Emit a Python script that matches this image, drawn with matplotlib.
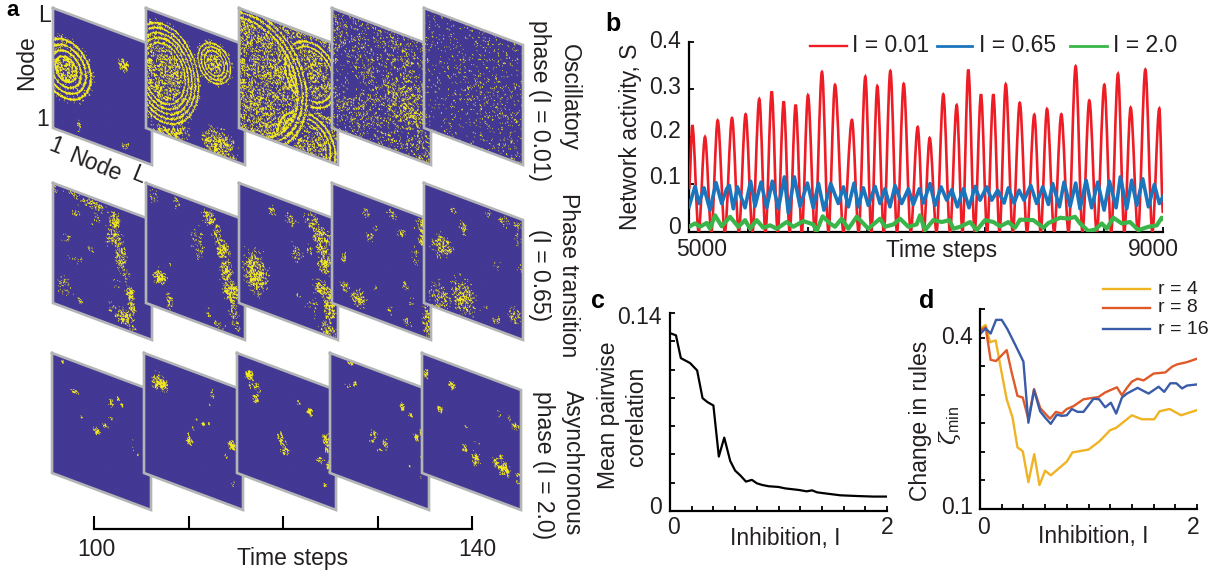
import numpy as np
import matplotlib
matplotlib.use('Agg')
import matplotlib.pyplot as plt
from matplotlib.colors import ListedColormap
from matplotlib.patches import PathPatch
from matplotlib.path import Path
from matplotlib.transforms import Affine2D

plt.rcParams['font.family'] = ['Liberation Sans', 'DejaVu Sans']
plt.rcParams['mathtext.fontset'] = 'custom'
plt.rcParams['mathtext.rm'] = 'Liberation Sans'
plt.rcParams['mathtext.it'] = 'DejaVu Serif:italic'

W, H = 1225, 577
INK = '#231f20'

# panel b: peaks and troughs of each trace
red_peak_t = [5028, 5135, 5242, 5363, 5478, 5593, 5698, 5799, 5900, 6004, 6122, 6232, 6375, 6488, 6589, 6699, 6812,
              6930, 7031, 7146, 7259, 7357, 7464, 7568, 7673, 7791, 7914, 8021, 8142, 8263, 8378, 8505, 8620, 8727,
              8851, 8969]
red_peak_s = [.225, .20, .235, .24, .248, .28, .296, .275, .268, .288, .337, .31, .236, .327, .307, .339, .312,
              .221, .198, .29, .267, .342, .29, .29, .311, .272, .247, .259, .248, .349, .277, .31, .333, .262,
              .342, .26]
blue_t = [5000, 5051, 5084, 5127, 5177, 5228, 5276, 5318, 5340, 5374, 5408, 5473, 5520, 5557, 5608, 5656, 5703, 5754,
          5805, 5838, 5889, 5937, 5999, 6049, 6092, 6139, 6196, 6260, 6303, 6345, 6393, 6429, 6471, 6513, 6570, 6612,
          6654, 6696, 6739, 6795, 6851, 6893, 6944, 6978, 7034, 7076, 7127, 7175, 7217, 7265, 7315, 7363, 7414, 7456,
          7512, 7555, 7605, 7659, 7695, 7743, 7785, 7827, 7884, 7934, 7985, 8033, 8069, 8126, 8165, 8216, 8263, 8300,
          8351, 8398, 8449, 8503, 8548, 8604, 8640, 8694, 8736, 8778, 8829, 8877, 8927, 8969, 9000]
blue_s = [.053, .096, .060, .093, .046, .104, .060, .091, .098, .049, .095, .051, .107, .054, .105, .051, .107, .049,
          .116, .040, .116, .054, .103, .051, .103, .046, .102, .060, .095, .053, .103, .053, .093, .056, .096, .060,
          .091, .053, .098, .060, .091, .058, .091, .061, .102, .056, .095, .067, .089, .053, .091, .051, .096, .067,
          .095, .067, .088, .061, .093, .061, .088, .067, .098, .060, .095, .058, .102, .053, .105, .054, .103, .049,
          .109, .051, .105, .046, .107, .051, .116, .049, .109, .056, .112, .053, .100, .060, .074]
green_t = [5000, 5051, 5093, 5149, 5177, 5220, 5276, 5346, 5416, 5473, 5515, 5571, 5627, 5684, 5740, 5824, 5881, 5965,
           6049, 6077, 6128, 6190, 6232, 6288, 6345, 6415, 6471, 6513, 6612, 6654, 6725, 6781, 6851, 6921, 6949, 6992,
           7062, 7133, 7197, 7231, 7287, 7372, 7428, 7498, 7569, 7625, 7695, 7751, 7794, 7906, 7991, 8033, 8131, 8202,
           8258, 8300, 8370, 8427, 8483, 8525, 8581, 8652, 8722, 8792, 8877, 8947, 8989, 9000]
green_s = [.011, .018, .011, .019, .007, .035, .012, .032, .011, .025, .007, .025, .009, .014, .007, .021, .011, .023,
           .016, .002, .033, .018, .011, .028, .007, .032, .018, .007, .028, .011, .016, .028, .011, .016, .035, .004,
           .025, .021, .025, .007, .011, .021, .004, .025, .021, .012, .021, .009, .026, .025, .009, .019, .030, .028,
           .032, .018, .002, .005, .018, .007, .030, .018, .021, .004, .011, .014, .030, .028]

# panel c
corr_i = [0, .055, .10, .185, .25, .30, .345, .40, .45, .50, .555, .60, .65, .70, .755, .80, .85, .91, 1.0, 1.06, 1.185,
          1.26, 1.31, 1.355, 1.445, 1.57, 1.72, 1.875, 2]
corr_v = [.1258, .1242, .1081, .1046, .0994, .0798, .0770, .0746, .0385, .0519, .0354, .0286, .025, .0208, .022, .0196,
          .0184, .0175, .017, .016, .0149, .0139, .0146, .0132, .0123, .0111, .0106, .0102, .0102]

# panel d
r4_i = [0, .052, .092, .145, .185, .246, .30, .345, .394, .446, .50, .548, .60, .652, .80, .852, 1.0, 1.098, 1.2, 1.255,
        1.4, 1.492, 1.606, 1.655, 1.748, 1.852, 2]
r4_v = [.415, .422, .392, .395, .353, .292, .26, .208, .201, .147, .196, .142, .167, .159, .183, .199, .204, .218, .238,
        .242, .264, .257, .257, .271, .275, .264, .273]
r8_i = [0, .052, .098, .148, .246, .292, .345, .394, .446, .498, .554, .60, .646, .70, .754, .80, .862, .954, 1.092,
        1.154, 1.262, 1.308, 1.354, 1.40, 1.452, 1.508, 1.60, 1.708, 1.77, 1.815, 1.908, 2]
r8_v = [.412, .418, .361, .359, .378, .339, .298, .295, .257, .31, .277, .267, .258, .27, .267, .275, .28, .292, .296,
        .304, .313, .299, .312, .323, .328, .325, .337, .339, .349, .353, .357, .363]
r16_i = [0, .052, .098, .148, .20, .252, .323, .40, .446, .498, .554, .60, .652, .708, .754, .80, .846, .90, .954, 1.046,
         1.098, 1.154, 1.206, 1.255, 1.308, 1.354, 1.452, 1.554, 1.646, 1.698, 1.754, 1.81, 1.862, 1.908, 2]
r16_v = [.406, .416, .407, .431, .431, .415, .388, .358, .251, .308, .271, .26, .249, .265, .263, .264, .275, .27, .27,
         .293, .292, .278, .286, .267, .295, .302, .312, .302, .314, .305, .32, .32, .311, .316, .318]

# panel a, lattice snapshots: where the active sites sit, read from each frame
# frame corners in px: left edges, top-left y
frame_x = [[53, 146, 239, 332, 424], [53, 146, 239, 332, 424], [52, 144, 237, 330, 422]]
frame_top = [8, 183, 353]

# background activity of each frame in the top row
osc_base = [0, 0, .36, .13, .05]
# (u, v, radius u, radius v, number of wave fronts, activity inside, radius of the speckled core)
osc_rings = [
    [(.13, .47, .29, .28, 6, .6, .35)],
    [(.18, .49, .38, .44, 11, .45, .5), (.69, .25, .19, .19, 6, .5, .4)],
    [(.73, .33, .30, .30, 7, .36, .65), (.68, .93, .33, .30, 7, .36, .6), (.10, .55, .62, .60, 14, .36, .78)],
    [], [],
]
# (u, v, radius u, radius v, activity)
osc_quiet = [
    [], [],
    [(.87, .56, .16, .07, 0), (.13, .50, .10, .13, .08), (.98, .99, .06, .1, 0)],
    [(.15, .55, .15, .15, .05)],
    [],
]
osc_clumps = [
    [(.71, .26, .05, .05, .7), (.257, .90, .02, .05, .35), (.73, .925, .03, .03, .35)],
    [(.24, .91, .17, .13, .6), (.73, .92, .14, .13, .6)],
    [],
    [(.73, .56, .25, .25, .32), (.3, .72, .4, .2, .2)],
    [(.65, .55, .3, .3, .1)],
]
trans_clumps = [
    [(.4, .06, .1, .03, .4), (.62, .135, .04, .06, .5), (.43, .18, .04, .04, .2), (.62, .27, .06, .06, .45),
     (.68, .405, .04, .08, .6), (.73, .53, .03, .04, .3), (.78, .69, .03, .04, .7), (.8, .785, .03, .04, .6),
     (.72, .89, .06, .05, .6), (.8, .965, .03, .02, .5), (.2, .03, .05, .02, .3), (.23, .17, .03, .03, .2),
     (.12, .41, .04, .04, .2), (.25, .565, .06, .02, .3), (.12, .825, .05, .06, .2), (.28, .90, .02, .02, .3),
     (.65, .64, .03, .03, .25), (.6, .84, .03, .04, .2), (.38, .44, .02, .02, .2), (.02, .04, .02, .03, .3)],
    [(.64, .09, .05, .04, .5), (.31, .06, .03, .04, .3), (.08, .08, .03, .04, .2), (.71, .2, .03, .06, .35),
     (.78, .32, .05, .06, .55), (.53, .34, .05, .08, .25), (.81, .48, .04, .08, .6), (.86, .64, .05, .08, .6),
     (.88, .8, .04, .04, .3), (.91, .91, .03, .03, .4), (.73, .96, .05, .02, .3), (.64, .88, .03, .03, .2),
     (.14, .74, .05, .04, .7), (.24, .91, .02, .05, .5), (.24, .6, .02, .02, .1)],
    [(.17, .69, .08, .12, .6), (.34, .13, .03, .03, .4), (.52, .15, .04, .04, .3), (.74, .09, .05, .05, .35),
     (.84, .19, .06, .06, .55), (.86, .29, .06, .05, .55), (.86, .41, .05, .06, .55), (.59, .41, .04, .05, .3),
     (.71, .33, .03, .03, .2), (.84, .615, .05, .05, .5), (.92, .74, .04, .1, .55), (.9, .94, .05, .04, .55),
     (.74, .79, .04, .06, .2), (.6, .75, .02, .02, .2)],
    [(.35, .14, .03, .03, .35), (.59, .08, .04, .03, .2), (.38, .33, .03, .03, .3), (.44, .24, .015, .02, .3),
     (.7, .2, .03, .03, .35), (.91, .08, .04, .05, .6), (.92, .19, .03, .06, .6), (.97, .34, .02, .1, .5),
     (.84, .35, .03, .06, .2), (.12, .585, .02, .03, .5), (.13, .83, .03, .03, .5), (.27, .88, .05, .05, .5),
     (.44, .73, .02, .02, .3), (.74, .63, .02, .02, .4), (.96, .84, .03, .1, .4), (.76, .92, .03, .03, .3),
     (.81, .74, .02, .03, .2), (.59, .87, .03, .03, .15)],
    [(.3, .135, .02, .02, .3), (.4, .25, .03, .04, .4), (.18, .47, .07, .07, .5), (.65, .05, .02, .02, .2),
     (.815, .07, .04, .03, .35), (.95, .07, .03, .03, .3), (.95, .19, .03, .04, .2), (.40, .83, .08, .1, .5),
     (.16, .9, .07, .08, .35), (.75, .46, .03, .03, .1), (.97, .42, .02, .03, .2), (.73, .91, .03, .03, .3),
     (.92, .83, .04, .05, .3), (.63, .85, .02, .03, .15)],
]
async_clumps = [
    [(.11, .04, .015, .01, .8), (.22, .25, .035, .015, .7), (.60, .23, .015, .025, .8), (.67, .175, .02, .015, .6),
     (.71, .22, .012, .012, .6), (.30, .44, .012, .01, .6), (.60, .36, .02, .012, .4), (.45, .51, .025, .02, .8),
     (.54, .435, .025, .015, .4), (.82, .515, .012, .03, .3), (.87, .586, .015, .02, .3)],
    [(.16, .2, .06, .05, .75), (.69, .14, .012, .03, .6), (.66, .23, .008, .008, .4), (.36, .49, .01, .012, .3),
     (.49, .48, .012, .015, .6), (.53, .39, .006, .006, .6), (.60, .41, .015, .015, .6), (.66, .38, .008, .012, .8),
     (.46, .58, .025, .03, .8), (.89, .50, .03, .03, .9), (.83, .605, .012, .012, .4), (.90, .805, .01, .02, .25)],
    [(.13, .15, .035, .03, .85), (.18, .23, .05, .03, .35), (.19, .32, .03, .03, .75), (.45, .575, .035, .035, .6),
     (.49, .67, .035, .03, .75), (.735, .27, .025, .025, .75), (.62, .22, .02, .012, .5), (.91, .45, .035, .04, .8),
     (.91, .53, .02, .025, .7), (.84, .63, .03, .02, .4), (.92, .67, .015, .04, .6), (.886, .825, .02, .01, .5)],
    [(.21, .02, .025, .012, .7), (.25, .18, .012, .02, .7), (.17, .22, .03, .02, .2), (.73, .22, .015, .025, .8),
     (.82, .265, .02, .015, .7), (.44, .54, .03, .03, .45), (.42, .605, .02, .012, .7), (.56, .59, .02, .03, .7),
     (.50, .66, .03, .02, .3), (.87, .435, .025, .02, .7), (.94, .39, .03, .03, .6), (.94, .51, .012, .02, .5),
     (.93, .59, .012, .01, .7), (.805, .69, .012, .012, .7), (.92, .75, .01, .01, .4)],
    [(.04, .16, .02, .035, .5), (.30, .175, .025, .025, .8), (.185, .415, .02, .025, .7), (.45, .475, .015, .01, .5),
     (.43, .665, .025, .025, .8), (.54, .715, .03, .04, .85), (.52, .57, .012, .015, .5), (.58, .58, .012, .008, .3),
     (.78, .27, .02, .02, .25), (.875, .27, .025, .025, .4), (.94, .32, .03, .02, .7), (.75, .69, .025, .035, .7),
     (.80, .62, .02, .015, .6), (.83, .715, .04, .04, .85), (.97, .72, .02, .015, .7), (.97, .775, .015, .02, .3)],
]
step_ticks = [100, 110, 120, 130, 140]


def px_axes(fig, left, top, right, bottom):
    return fig.add_axes([left / W, 1 - bottom / H, (right - left) / W, (bottom - top) / H])


def speckle_threshold(n):
    # fixed hash pattern, only turns an activity level into single sites
    yy, xx = np.mgrid[0:n, 0:n]
    fine = (np.sin(xx * 12.9898 + yy * 78.233) * 43758.5453) % 1
    coarse = (np.sin((xx // 2) * 39.346 + (yy // 2) * 11.135) * 24634.6345) % 1
    t = 0.5 * fine + 0.5 * coarse
    # back to an even spread, so a level of 0.2 lights about 20% of the sites
    return np.where(t < 0.5, 2 * t ** 2, 1 - 2 * (1 - t) ** 2)


def frame_sites(base, rings, quiet, clumps, spread=1.0, n=128):
    v, u = (np.mgrid[0:n, 0:n] + 0.5) / n
    level = np.full((n, n), float(base))
    grain = speckle_threshold(n)
    for cu, cv, ru, rv, act in clumps:
        r = np.hypot((u - cu) / (ru * spread), (v - cv) / (rv * spread))
        level = np.maximum(level, act * np.exp(-r ** 4))
    for cu, cv, ru, rv, act in quiet:
        r = np.hypot((u - cu) / ru, (v - cv) / rv)
        level = np.where(r < 1, act, level)
    for cu, cv, ru, rv, fronts, act, core in rings:
        r = np.hypot((u - cu) / ru, (v - cv) / rv) + 0.03 * (grain - 0.5)
        phase = (r * fronts) % 1
        front = np.where(phase < 0.4, 1.0, 0.1)
        ringed = np.where(r < core, act, front)
        level = np.where(r < 1, np.maximum(ringed, level * (r < core)), level)
    return level > grain


def draw_frame(ax, sites, x0, top):
    # u across, v down: each frame is sheared down to the right
    shear = Affine2D.from_values(99, 37, 0, 120, x0, top)
    cmap = ListedColormap(['#433894', '#f2e81e'])
    ax.imshow(sites.astype(float), cmap=cmap, vmin=0, vmax=1, extent=(0, 1, 1, 0), aspect='auto',
              interpolation='hanning', transform=shear + ax.transData, zorder=2)
    corners = np.array([[0, 0], [1, 0], [1, 1], [0, 1], [0, 0]])
    xy = shear.transform(corners)
    ax.plot(xy[:, 0], xy[:, 1], color='#b3b4b6', lw=1.9, solid_joinstyle='miter', zorder=2)


def smooth_trace(ts, ss, k=0.33):
    # curve through the read peaks and troughs, flat at each of them
    verts = [(ts[0], ss[0])]
    codes = [Path.MOVETO]
    for t0, s0, t1, s1 in zip(ts[:-1], ss[:-1], ts[1:], ss[1:]):
        dt = t1 - t0
        verts += [(t0 + k * dt, s0), (t1 - k * dt, s1), (t1, s1)]
        codes += [Path.CURVE4] * 3
    return Path(verts, codes)


def label(ax, x, y, s, size=16.5, rotation=0, **kw):
    kw.setdefault('ha', 'center')
    kw.setdefault('va', 'center')
    kw.setdefault('color', INK)
    ax.text(x, y, s, fontsize=size, rotation=rotation, rotation_mode='anchor', **kw)


def style_axes(ax):
    for side in ('top', 'right'):
        ax.spines[side].set_visible(False)
    for side in ('left', 'bottom'):
        ax.spines[side].set_linewidth(1.6)
        ax.spines[side].set_color('black')
    ax.tick_params(direction='in', length=3.5, width=1.3, labelleft=False, labelbottom=False)
    ax.patch.set_alpha(0)


fig = plt.figure(figsize=(W / 100, H / 100), dpi=100)

# overlay in px for panel a and all the hand placed text
over = fig.add_axes([0, 0, 1, 1])
over.axis('off')

for row in range(3):
    for col in range(5):
        if row == 0:
            sites = frame_sites(osc_base[col], osc_rings[col], osc_quiet[col], osc_clumps[col])
        elif row == 1:
            sites = frame_sites(0, [], [], trans_clumps[col], spread=1.35)
        else:
            sites = frame_sites(0, [], [], async_clumps[col], spread=1.25)
        draw_frame(over, sites, frame_x[row][col], frame_top[row])
over.set_xlim(0, W)
over.set_ylim(H, 0)

# time axis under panel a
steps = px_axes(fig, 94, 516, 472, 529)
steps.set_xlim(step_ticks[0], step_ticks[-1])
steps.set_yticks([])
steps.set_xticks(step_ticks)
for side in ('top', 'left', 'right'):
    steps.spines[side].set_visible(False)
steps.spines['bottom'].set_linewidth(1.6)
steps.tick_params(direction='in', length=9.4, width=1.5, labelbottom=False)
steps.patch.set_alpha(0)

# panel b
b = px_axes(fig, 689, 42, 1163, 232)
red_t = [5000]
red_s = [.09]
for i, (pt, ps) in enumerate(zip(red_peak_t, red_peak_s)):
    red_t.append(pt)
    red_s.append(ps)
    if i + 1 < len(red_peak_t):
        red_t.append((pt + red_peak_t[i + 1]) / 2)
        red_s.append(0)
red_t.append(9000)
red_s.append(.04)
b.add_patch(PathPatch(smooth_trace(red_t, red_s), fill=False, edgecolor='#ee1c25', lw=1.9, zorder=3))
b.plot(blue_t, blue_s, color='#1b75bc', lw=2.6, solid_joinstyle='round', zorder=4)
b.plot(green_t, green_s, color='#39b54a', lw=3.0, solid_joinstyle='round', zorder=5)
b.set_xlim(5000, 9000)
b.set_ylim(0, .4)
style_axes(b)
b.set_yticks([0, .1, .2, .3, .4])
b.set_xticks(np.arange(5000, 9001, 500))

# panel c
c = px_axes(fig, 670, 313, 887, 511)
c.plot(corr_i, corr_v, color='black', lw=1.6)
c.set_xlim(0, 2)
c.set_ylim(0, .14)
style_axes(c)
c.set_yticks(np.arange(0, .141, .02))
c.set_xticks(np.arange(0, 2.01, .2))

# panel d
d = px_axes(fig, 980, 309, 1197, 509)
d.plot(r4_i, r4_v, color='#f0b323', lw=1.7)
d.plot(r8_i, r8_v, color='#df5a2b', lw=1.7)
d.plot(r16_i, r16_v, color='#3a5ba8', lw=1.7)
d.set_xlim(0, 2)
d.set_ylim(.1, .45)
style_axes(d)
d.set_yticks(np.arange(.1, .451, .05))
d.set_xticks(np.arange(0, 2.01, .2))

# text, all on a top layer
top = fig.add_axes([0, 0, 1, 1], zorder=10)
top.axis('off')
top.set_xlim(0, W)
top.set_ylim(H, 0)

label(top, 13, 16, 'a', size=16, fontweight='bold', color='black', va='baseline')
for x, y, s in [(613, 24, 'b'), (598, 301, 'c'), (927, 301, 'd')]:
    label(top, x, y, s, size=18, fontweight='bold', color='black')

label(top, 44, 16, 'L')
label(top, 27, 63, 'Node', rotation=90)
label(top, 43, 120, '1')
label(top, 56, 146, '1', rotation=-22)
label(top, 95, 165, 'Node', rotation=-22)
label(top, 138, 175, 'L', rotation=-22)
label(top, 569, 97, 'Oscillatory', rotation=-90)
label(top, 539, 100, 'phase (I = 0.01)', rotation=-90)
label(top, 569, 275, 'Phase transition', rotation=-90)
label(top, 539, 275, '(I = 0.65)', rotation=-90)
label(top, 572, 463, 'Asynchronous', rotation=-90)
label(top, 543, 465, 'phase (I = 2.0)', rotation=-90)
label(top, 96, 550, '100')
label(top, 477, 549, '140')
label(top, 293, 558, 'Time steps')

# panel b text
for y, s in [(41, '0.4'), (87, '0.3'), (132, '0.2'), (178, '0.1')]:
    label(top, 681, y, s, ha='right')
label(top, 681, 227, '0', ha='right')
label(top, 631, 137, 'Network activity, S', rotation=90)
label(top, 702, 250, '5000')
label(top, 942, 251, 'Time steps')
label(top, 1153, 249, '9000')
for x0, x1, col, lw, tx, s in [(810, 847, '#ee1c25', 1.7, 852, 'I = 0.01'), (937, 972, '#1b75bc', 2.0, 979, 'I = 0.65'),
                               (1070, 1107, '#39b54a', 2.0, 1113, 'I = 2.0')]:
    top.plot([x0, x1], [46, 46], color=col, lw=lw)
    label(top, tx, 46, s, ha='left')

# panel c text
label(top, 662, 318, '0.14', ha='right')
label(top, 655, 507, '0')
label(top, 608, 415, 'Mean pairwise', rotation=90)
label(top, 637, 416, 'corelation', rotation=90)
label(top, 673, 528, '0')
label(top, 887, 528, '2')
label(top, 785, 538, 'Inhibition, I')

# panel d text
label(top, 973, 338, '0.4', ha='right')
label(top, 973, 507, '0.1', ha='right')
label(top, 920, 421, 'Change in rules', rotation=90)
label(top, 950, 425, r'$\mathit{\zeta}_{\mathrm{min}}$', rotation=90)
label(top, 983, 528, '0')
label(top, 1193, 528, '2')
label(top, 1093, 537, 'Inhibition, I')
for y, col, s in [(289, '#f0b323', 'r = 4'), (308, '#df5a2b', 'r = 8'), (329, '#3a5ba8', 'r = 16')]:
    top.plot([1103, 1150], [y, y], color=col, lw=1.7)
    label(top, 1158, y, s, size=14, ha='left')

top.set_xlim(0, W)
top.set_ylim(H, 0)

fig.savefig('out.png', dpi=100)
